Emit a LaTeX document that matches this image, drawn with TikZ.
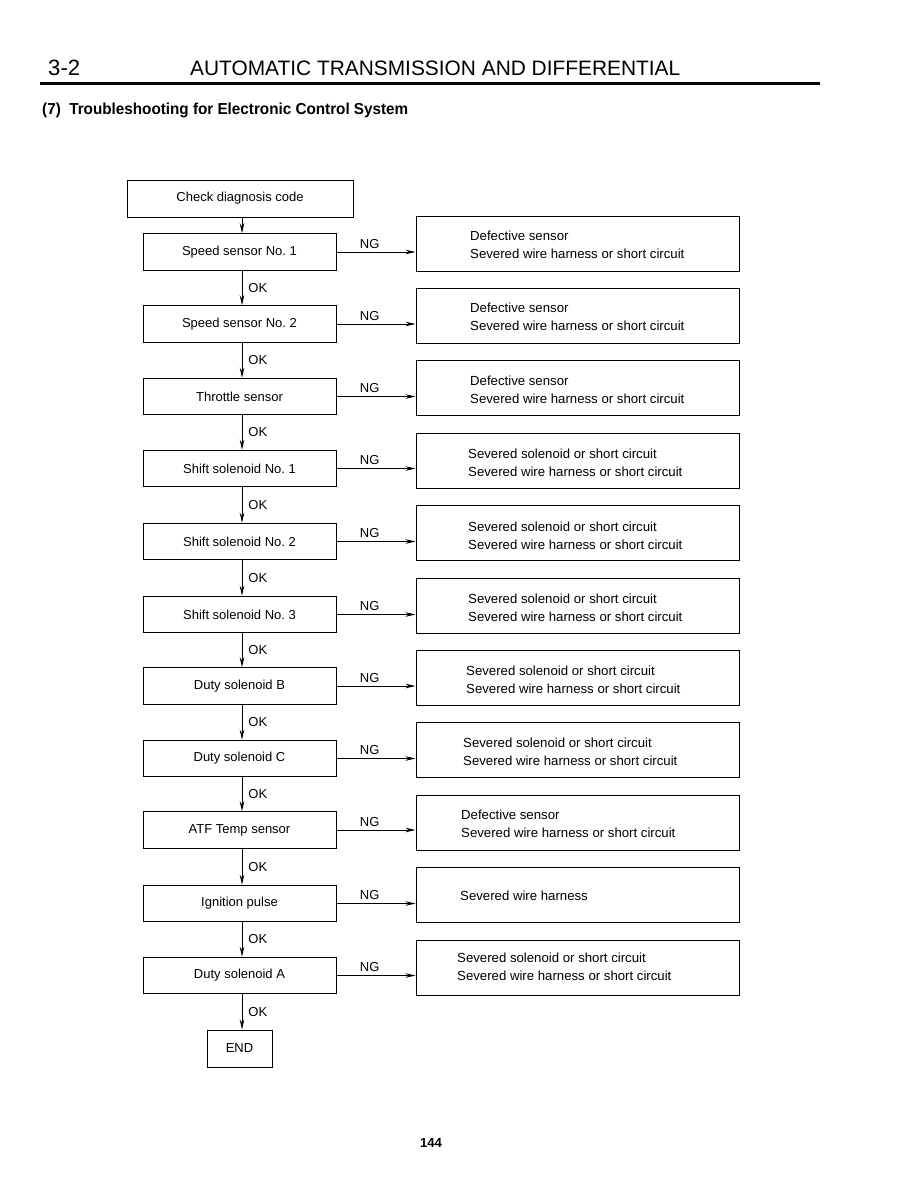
\documentclass[tikz,border=0pt]{standalone}
\usepackage{fontspec}
\setmainfont{Liberation Sans}
\usetikzlibrary{arrows.meta}
\frenchspacing
\begin{document}
\frenchspacing
\begin{tikzpicture}[x=1pt,y=-1pt,
  box/.style={draw, line width=1pt, inner sep=0pt, font=\fontsize{13}{16}\selectfont},
  lbox/.style={box, minimum width=193pt, minimum height=36.5pt},
  rbox/.style={box, minimum width=323pt, minimum height=55pt},
  rtext/.style={anchor=west, align=left, inner sep=0pt, font=\fontsize{13.2}{18}\selectfont},
  arr/.style={-{Stealth[length=10pt,width=4.5pt]}, line width=0.9pt},
  lab/.style={font=\fontsize{13}{16}\selectfont, inner sep=2pt},
  oklab/.style={lab, right, inner sep=6pt},
  nglab/.style={lab, above, pos=0.42, inner sep=3pt}]
\useasboundingbox (0,0) rectangle (916,1188);

% header
\node[anchor=south west, inner sep=0pt] (num) at (48,76) {\resizebox{32pt}{!}{3-2}};
\node[anchor=south west, inner sep=0pt] (head) at (190,76) {\resizebox{490pt}{!}{AUTOMATIC TRANSMISSION AND DIFFERENTIAL}};
\coordinate (ruleA) at (40,84);
\coordinate (ruleB) at (820,84);
\draw[line width=3pt] (ruleA) -- (ruleB);
\node[anchor=south west, inner sep=0pt] (title) at (42,118) {\resizebox{366pt}{11.5pt}{\bfseries (7)\ \ Troubleshooting for Electronic Control System}};

% flow
\node[box, minimum width=226pt, minimum height=37pt] (c0) at (240,198.5) {Check diagnosis code};

\node[lbox] (l1) at (239.5,252) {Speed sensor No. 1};
\node[lbox] (l2) at (239.5,324) {Speed sensor No. 2};
\node[lbox] (l3) at (239.5,396.5) {Throttle sensor};
\node[lbox] (l4) at (239.5,468.5) {Shift solenoid No. 1};
\node[lbox] (l5) at (239.5,541.5) {Shift solenoid No. 2};
\node[lbox] (l6) at (239.5,614.5) {Shift solenoid No. 3};
\node[lbox] (l7) at (239.5,686) {Duty solenoid B};
\node[lbox] (l8) at (239.5,758.5) {Duty solenoid C};
\node[lbox] (l9) at (239.5,830) {ATF Temp sensor};
\node[lbox] (l10) at (239.5,903.5) {Ignition pulse};
\node[lbox] (l11) at (239.5,975.5) {Duty solenoid A};
\node[box, minimum width=65pt, minimum height=37pt] (e) at (239.5,1048.5) {END};

\node[rbox] (r1) at (577.5,243.5) {};
\node[rbox] (r2) at (577.5,315.5) {};
\node[rbox] (r3) at (577.5,388) {};
\node[rbox] (r4) at (577.5,460.5) {};
\node[rbox] (r5) at (577.5,533) {};
\node[rbox] (r6) at (577.5,605.5) {};
\node[rbox] (r7) at (577.5,677.5) {};
\node[rbox] (r8) at (577.5,749.5) {};
\node[rbox] (r9) at (577.5,822.5) {};
\node[rbox] (r10) at (577.5,894.5) {};
\node[rbox] (r11) at (577.5,967.5) {};

\node[rtext] (t1) at (470,245) {Defective sensor\\Severed wire harness or short circuit};
\node[rtext] (t2) at (470,317) {Defective sensor\\Severed wire harness or short circuit};
\node[rtext] (t3) at (470,390) {Defective sensor\\Severed wire harness or short circuit};
\node[rtext] (t4) at (468,463) {Severed solenoid or short circuit\\Severed wire harness or short circuit};
\node[rtext] (t5) at (468,536) {Severed solenoid or short circuit\\Severed wire harness or short circuit};
\node[rtext] (t6) at (468,608) {Severed solenoid or short circuit\\Severed wire harness or short circuit};
\node[rtext] (t7) at (466,680) {Severed solenoid or short circuit\\Severed wire harness or short circuit};
\node[rtext] (t8) at (463,752) {Severed solenoid or short circuit\\Severed wire harness or short circuit};
\node[rtext] (t9) at (461,824) {Defective sensor\\Severed wire harness or short circuit};
\node[rtext] (t10) at (460,896) {Severed wire harness};
\node[rtext] (t11) at (457,967) {Severed solenoid or short circuit\\Severed wire harness or short circuit};

% vertical connectors
\draw[arr] ([xshift=2pt]c0.south) -- ([xshift=2.5pt]l1.north);
\draw[arr] ([xshift=2.5pt]l1.south) -- node[oklab]{OK} ([xshift=2.5pt]l2.north);
\draw[arr] ([xshift=2.5pt]l2.south) -- node[oklab]{OK} ([xshift=2.5pt]l3.north);
\draw[arr] ([xshift=2.5pt]l3.south) -- node[oklab]{OK} ([xshift=2.5pt]l4.north);
\draw[arr] ([xshift=2.5pt]l4.south) -- node[oklab]{OK} ([xshift=2.5pt]l5.north);
\draw[arr] ([xshift=2.5pt]l5.south) -- node[oklab]{OK} ([xshift=2.5pt]l6.north);
\draw[arr] ([xshift=2.5pt]l6.south) -- node[oklab]{OK} ([xshift=2.5pt]l7.north);
\draw[arr] ([xshift=2.5pt]l7.south) -- node[oklab]{OK} ([xshift=2.5pt]l8.north);
\draw[arr] ([xshift=2.5pt]l8.south) -- node[oklab]{OK} ([xshift=2.5pt]l9.north);
\draw[arr] ([xshift=2.5pt]l9.south) -- node[oklab]{OK} ([xshift=2.5pt]l10.north);
\draw[arr] ([xshift=2.5pt]l10.south) -- node[oklab]{OK} ([xshift=2.5pt]l11.north);
\draw[arr] ([xshift=2.5pt]l11.south) -- node[oklab]{OK} ([xshift=2.5pt]e.north);

% NG connectors
\foreach \i in {1,...,11}{
  \draw[arr] (l\i.east) -- node[nglab]{NG} (l\i.east -| r\i.west);
}

% page number
\node[anchor=south, inner sep=0pt] (page) at (431,1148) {\resizebox{22pt}{!}{\bfseries 144}};
\end{tikzpicture}
\end{document}
